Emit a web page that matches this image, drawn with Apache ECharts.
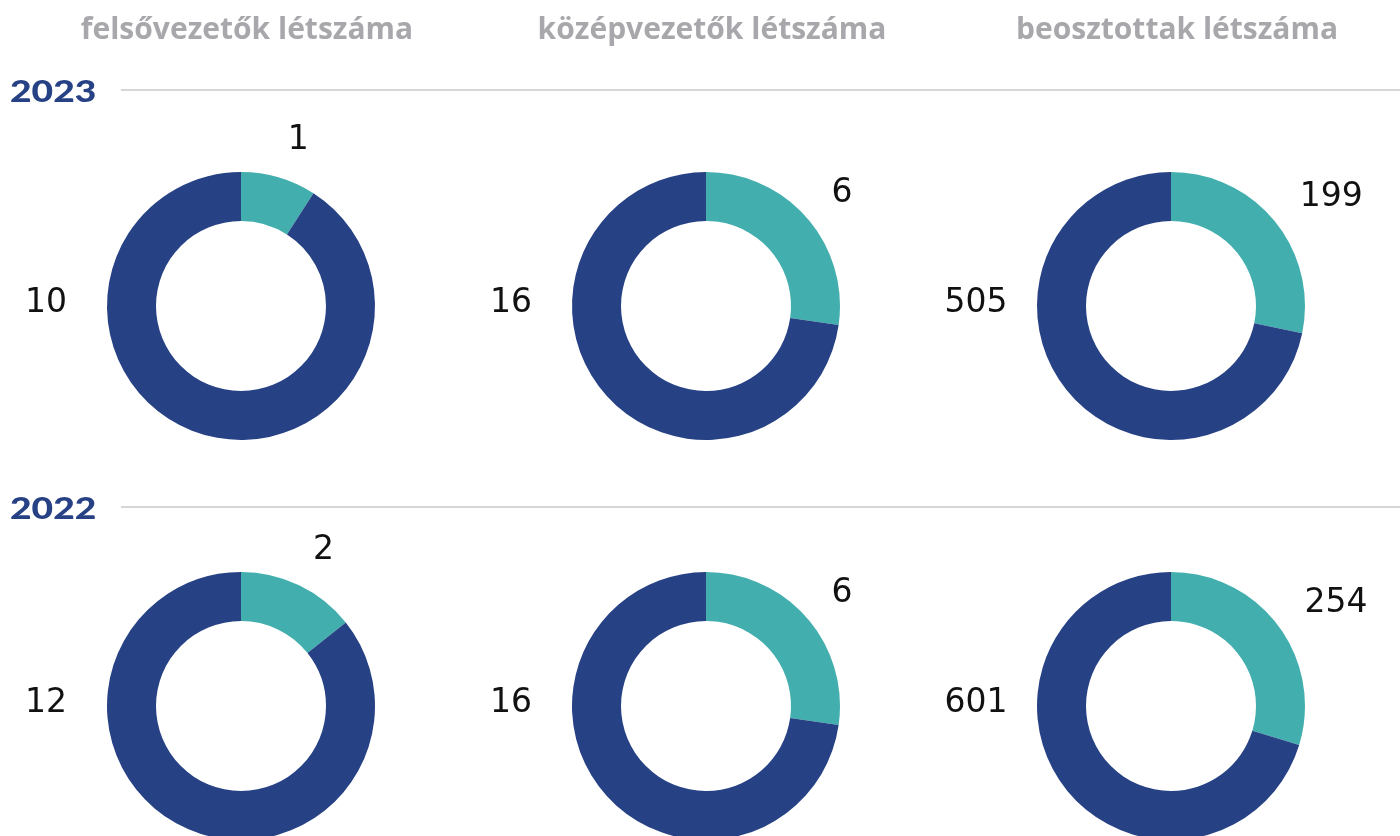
<!DOCTYPE html>
<html><head><meta charset="utf-8">
<script src="https://cdn.jsdelivr.net/npm/echarts@6/dist/echarts.min.js"></script>
<style>html,body{margin:0;padding:0;background:#fff}#c{width:1400px;height:836px}</style>
</head><body><div id="c"></div>
<script>
const categories = ['felsővezetők létszáma', 'középvezetők létszáma', 'beosztottak létszáma'];
const years = ['2023', '2022'];
const teal2023 = [1, 6, 199];
const dark2023 = [10, 16, 505];
const teal2022 = [2, 6, 254];
const dark2022 = [12, 16, 601];

const TEAL = '#43aeae', DARK = '#274185';
const colX = [241, 706, 1171];
const rowY = [306, 706];
const values = [[teal2023, dark2023], [teal2022, dark2022]];

const chart = echarts.init(document.getElementById('c'), null, {renderer: 'canvas'});
const series = [];
const graphic = [];

categories.forEach((c, i) => {
  graphic.push({type: 'text', x: colX[i] + 6, y: 30, style: {text: c, fill: '#a8a8ac', font: '700 30px "Open Sans"', align: 'center', verticalAlign: 'middle'}});
});
years.forEach((y, r) => {
  const ly = r === 0 ? 90 : 507;
  graphic.push({type: 'line', shape: {x1: 121, y1: ly, x2: 1400, y2: ly}, style: {stroke: '#c8c8c8', lineWidth: 1.5}});
  graphic.push({type: 'text', x: 10, y: ly + 2, scaleX: 1.2, style: {text: y, fill: DARK, font: '900 31px Lato', align: 'left', verticalAlign: 'middle'}});
});

rowY.forEach((cy, r) => {
  colX.forEach((cx, i) => {
    const t = values[r][0][i], d = values[r][1][i];
    const theta = Math.PI * t / (t + d); // mid-angle of teal slice from top
    series.push({
      type: 'pie',
      center: [cx, cy],
      radius: [85, 134],
      startAngle: 90,
      clockwise: true,
      silent: true,
      animation: false,
      avoidLabelOverlap: false,
      label: {show: true, position: 'outside', formatter: '{c}', color: '#111', fontFamily: 'DejaVu Sans', fontWeight: 'normal', fontSize: 33},
      labelLine: {show: false},
      labelLayout: function (p) {
        if (p.dataIndex === 0) {
          return {x: cx + 166 * Math.sin(theta), y: cy - 174 * Math.cos(theta) + 1, align: 'left', verticalAlign: 'middle'};
        }
        return {x: cx - 195, y: cy - 3, align: 'center', verticalAlign: 'middle'};
      },
      itemStyle: {borderWidth: 0},
      data: [
        {value: t, itemStyle: {color: TEAL}},
        {value: d, itemStyle: {color: DARK}}
      ]
    });
  });
});

chart.setOption({animation: false, series, graphic});
</script></body></html>
